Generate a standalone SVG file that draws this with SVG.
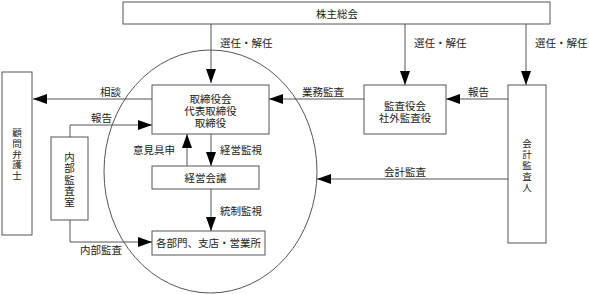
<svg xmlns="http://www.w3.org/2000/svg" width="589" height="294" viewBox="0 0 589 294">
<style>
.box{fill:#fff;stroke:#555;stroke-width:1}
.ln{fill:none;stroke:#555;stroke-width:1}
text{font-family:"Liberation Serif","Noto Sans CJK JP",serif;font-size:10.5px;fill:#222}
.c{text-anchor:middle}
.e{text-anchor:end}
.v{text-anchor:middle;font-size:9.5px}
</style>
<defs>
<marker id="ah" markerUnits="userSpaceOnUse" markerWidth="14" markerHeight="10" refX="14" refY="5" orient="auto" viewBox="0 0 14 10">
<path d="M0,0 L14,5 L0,10 z" fill="#000"/>
</marker>
</defs>
<rect width="589" height="294" fill="#fff"/>
<g id="boundary">
<ellipse cx="210.5" cy="171.5" rx="106.5" ry="121.5" class="ln"/>
</g>
<g id="connectors">
<path class="ln" d="M211,24 V83" marker-end="url(#ah)"/>
<path class="ln" d="M405,24 V85" marker-end="url(#ah)"/>
<path class="ln" d="M526,24 V85" marker-end="url(#ah)"/>
<path class="ln" d="M364,99 H269" marker-end="url(#ah)"/>
<path class="ln" d="M508,99 H446" marker-end="url(#ah)"/>
<path class="ln" d="M152,99 H33" marker-end="url(#ah)"/>
<path class="ln" d="M70,137 V125 H152" marker-end="url(#ah)"/>
<path class="ln" d="M187,166 V134" marker-end="url(#ah)"/>
<path class="ln" d="M211,134 V166" marker-end="url(#ah)"/>
<path class="ln" d="M211,189 V231" marker-end="url(#ah)"/>
<path class="ln" d="M70,220 V242 H152" marker-end="url(#ah)"/>
<path class="ln" d="M508,179 H317" marker-end="url(#ah)"/>
<text x="220" y="47">選任・解任</text>
<text x="414" y="47">選任・解任</text>
<text x="535" y="47">選任・解任</text>
<text x="302" y="96">業務監査</text>
<text x="468" y="96">報告</text>
<text x="100" y="96">相談</text>
<text x="91" y="121.5">報告</text>
<text x="175" y="154" class="e">意見具申</text>
<text x="220" y="154">経営監視</text>
<text x="220" y="215">統制監視</text>
<text x="80" y="254">内部監査</text>
<text x="384" y="176">会計監査</text>
</g>
<g id="shareholders">
<rect class="box" x="123" y="2" width="427" height="22"/>
<text x="337" y="17.5" class="c">株主総会</text>
</g>
<g id="board">
<rect class="box" x="152" y="85" width="117" height="49"/>
<text x="210.5" y="102.5" class="c">取締役会</text>
<text x="210.5" y="114.5" class="c">代表取締役</text>
<text x="210.5" y="126.5" class="c">取締役</text>
</g>
<g id="auditors">
<rect class="box" x="364" y="85" width="82" height="49"/>
<text x="405" y="110" class="c">監査役会</text>
<text x="405" y="122" class="c">社外監査役</text>
</g>
<g id="accounting-auditor">
<rect class="box" x="508" y="85" width="38" height="158"/>
<text x="527" y="147" class="v">会</text>
<text x="527" y="158" class="v">計</text>
<text x="527" y="169" class="v">監</text>
<text x="527" y="180" class="v">査</text>
<text x="527" y="191" class="v">人</text>
</g>
<g id="lawyer">
<rect class="box" x="2" y="72" width="30" height="163"/>
<text x="17" y="136" class="v">顧</text>
<text x="17" y="146.75" class="v">問</text>
<text x="17" y="157.5" class="v">弁</text>
<text x="17" y="168.25" class="v">護</text>
<text x="17" y="179" class="v">士</text>
</g>
<g id="internal-audit">
<rect class="box" x="51" y="137" width="37" height="83"/>
<text x="69.5" y="161" class="c">内</text>
<text x="69.5" y="172.25" class="c">部</text>
<text x="69.5" y="183.5" class="c">監</text>
<text x="69.5" y="194.75" class="c">査</text>
<text x="69.5" y="206" class="c">室</text>
</g>
<g id="management">
<rect class="box" x="152" y="166" width="107" height="23"/>
<text x="205.5" y="181.5" class="c">経営会議</text>
</g>
<g id="departments">
<rect class="box" x="152" y="231" width="113" height="24"/>
<text x="208.5" y="247" class="c">各部門、支店・営業所</text>
</g>
</svg>
